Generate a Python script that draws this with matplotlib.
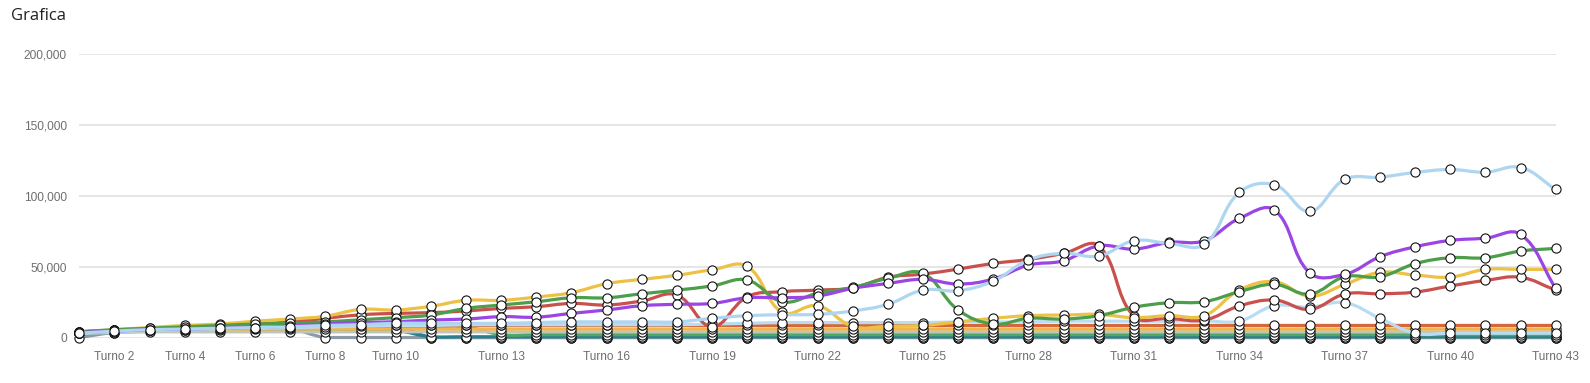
import numpy as np
import matplotlib
matplotlib.use("Agg")
import matplotlib.pyplot as plt
from matplotlib.path import Path
from matplotlib.patches import PathPatch
from matplotlib.ticker import FuncFormatter

turns = [f"Turno {i}" for i in range(1, 44)]
shown_labels = ["Turno 2", "Turno 4", "Turno 6", "Turno 8", "Turno 10", "Turno 13", "Turno 16",
                "Turno 19", "Turno 22", "Turno 25", "Turno 28", "Turno 31", "Turno 34", "Turno 37",
                "Turno 40", "Turno 43"]
y_ticks = [0, 50000, 100000, 150000, 200000]

yellow = [4000, 5500, 7000, 8500, 9500, 11500, 13000, 15000, 19800, 19400,
          22000, 26200, 26200, 28500, 31600, 37900, 41000, 43800, 47700, 50100,
          17700, 22400, 7800, 7800, 8500, 11000, 13500, 15400, 15800, 16300,
          14000, 15400, 15400, 33400, 39300, 29200, 37400, 45900, 44000, 42600,
          48000, 48000, 48000]
green = [4000, 5500, 6500, 7500, 8500, 9500, 10000, 11000, 12500, 14000,
         15800, 20500, 22900, 25200, 28000, 28000, 30800, 33400, 36300, 40500,
         25200, 31100, 35300, 41700, 45200, 19400, 9500, 13500, 13000, 15400,
         21300, 24500, 25200, 32300, 37400, 30600, 42800, 42800, 52000, 56200,
         56200, 60900, 62800]
red = [4000, 5000, 6000, 7000, 8000, 9500, 11000, 13500, 16000, 17000,
       17500, 18700, 20500, 21700, 24000, 22900, 25700, 29900, 7600, 28700,
       32300, 33400, 35000, 42400, 44700, 48200, 52200, 55000, 59300, 64600,
       15000, 13500, 12300, 22200, 26400, 19800, 30600, 30800, 32000, 36300,
       40200, 42400, 33400]
purple = [3500, 4500, 5500, 6000, 6500, 7000, 8000, 9500, 10500, 11100,
          12300, 13000, 14700, 14300, 17000, 19400, 22400, 23400, 24000, 28000,
          28000, 29200, 34600, 38100, 41000, 37700, 41200, 51000, 54100, 64600,
          62300, 67000, 68200, 83900, 89800, 45600, 44500, 56900, 63900, 68400,
          70000, 72700, 34600]
lightblue = [3000, 4500, 5500, 6000, 6500, 7000, 7500, 8500, 9000, 10000,
             10000, 10000, 10000, 10500, 11000, 11000, 11000, 11000, 13500, 15400,
             16000, 16300, 18700, 23400, 33400, 33000, 39800, 54600, 59300, 57400,
             68200, 66300, 65600, 102200, 107600, 88800, 111400, 113000, 116300, 118400,
             116500, 119800, 104300]
lightblue2 = [3000, 4000, 5000, 5500, 6000, 6500, 7000, 7500, 8000, 8500,
              8500, 9000, 9000, 9000, 9000, 9000, 9000, 9000, 9500, 10000,
              10500, 10500, 10500, 10500, 10500, 11000, 11000, 11000, 11500, 11500,
              11500, 11500, 11800, 11600, 22400, 21300, 24500, 13500, 3000, 3000,
              3000, 3000, 3000]
darkorange = [4000, 5000, 5500, 6000, 6500, 7000, 7500, 8000, 8500, 8500,
              8500, 8500, 8500, 8500, 8500, 8500, 8500, 8500, 8500, 8500,
              8500, 8500, 8500, 8500, 8500, 8500, 8500, 8500, 8500, 8500,
              8500, 8500, 8500, 8500, 8500, 8500, 8500, 8500, 8500, 8500,
              8500, 8500, 8500]
lightorange = [3500, 4500, 5000, 5500, 5500, 6000, 6000, 6000, 6000, 6000,
               6000, 6000, 6000, 6000, 6000, 6000, 6000, 6000, 6000, 6000,
               6000, 6000, 6000, 6000, 6000, 6000, 6000, 6000, 6000, 6000,
               6000, 6000, 6000, 6000, 6000, 6000, 6000, 6000, 6000, 6000,
               6000, 6000, 6000]
lightgray = [3000, 3500, 4000, 4000, 4000, 4000, 4000, 4000, 4000, 4000,
             4000, 4000, 4000, 4000, 4000, 4000, 4000, 4000, 4000, 4000,
             4000, 4000, 4000, 4000, 4000, 4000, 4000, 4000, 4000, 4000,
             4000, 4000, 4000, 4000, 4000, 4000, 4000, 4000, 4000, 4000,
             4000, 4000, 4000]
green2 = [3000, 4500, 5000, 5500, 6000, 6000, 6500, 7000, 7000, 7500,
          7500, 7500, 2000, 2000, 2000, 2000, 2000, 2000, 2000, 2000,
          2000, 2000, 2000, 2000, 2000, 2000, 2000, 2000, 2000, 2000,
          2000, 2000, 2000, 2000, 2000, 2000, 2000, 2000, 2000, 2000,
          2000, 2000, 2000]
teal = [3000, 4000, 4500, 5000, 5000, 5500, 5500, 5500, 5000, 5000,
        500, 500, 500, 500, 500, 500, 500, 500, 500, 500,
        500, 500, 500, 500, 500, 500, 500, 500, 500, 500,
        500, 500, 500, 500, 500, 500, 500, 500, 500, 500,
        500, 500, 500]
gray = [0, 3500, 4500, 5000, 5500, 5500, 6000, 0, 0, 0,
        0, 0, 0, 0, 0, 0, 0, 0, 0, 0,
        0, 0, 0, 0, 0, 0, 0, 0, 0, 0,
        0, 0, 0, 0, 0, 0, 0, 0, 0, 0,
        0, 0, 0]
darkblue = [3500, 4500, 5000, 5500, 6000, 6500, 7000, 7500, 8500, 9000,
            0, 0, 0, 0, 0, 0, 0, 0, 0, 0,
            0, 0, 0, 0, 0, 0, 0, 0, 0, 0,
            0, 0, 0, 0, 0, 0, 0, 0, 0, 0,
            0, 0, 0]

series = [
    (lightblue, "#aed6f1"),
    (purple, "#9b45e4"),
    (green, "#4c9e4a"),
    (yellow, "#ecc145"),
    (red, "#c9504c"),
    (lightblue2, "#b9dcf3"),
    (darkorange, "#d7673a"),
    (lightorange, "#f3b54a"),
    (lightgray, "#bcc6bc"),
    (green2, "#52a862"),
    (teal, "#2a7f8f"),
    (gray, "#8c9aa6"),
    (darkblue, "#1f6fab"),
]

W, H = 1590, 383
fig = plt.figure(figsize=(W / 100, H / 100), dpi=100)
left, right = 79.3 / W, 1555.7 / W
bottom, top = 1 - 337.5 / H, 1 - 53.7 / H
ax = fig.add_axes([left, bottom, right - left, top - bottom])
ax.set_xlim(1, 43)
ax.set_ylim(0, 200000)

# pixel scale for Chart.js-like spline computation
sx = (1555.7 - 79.3) / 42.0
sy = (337.5 - 53.7) / 200000.0


def spline_path(xs, ys, tension=0.4):
    xs = np.asarray(xs, float)
    ys = np.asarray(ys, float)
    px, py = xs * sx, ys * sy
    n = len(xs)
    prev_c = np.zeros((n, 2))
    next_c = np.zeros((n, 2))
    for i in range(n):
        i0 = max(i - 1, 0)
        i2 = min(i + 1, n - 1)
        d01 = np.hypot(px[i] - px[i0], py[i] - py[i0])
        d12 = np.hypot(px[i2] - px[i], py[i2] - py[i])
        tot = d01 + d12
        s01 = d01 / tot if tot > 0 else 0
        s12 = d12 / tot if tot > 0 else 0
        fa, fb = tension * s01, tension * s12
        dx, dy = px[i2] - px[i0], py[i2] - py[i0]
        prev_c[i] = (px[i] - fa * dx, py[i] - fa * dy)
        next_c[i] = (px[i] + fb * dx, py[i] + fb * dy)
    # cap to chart area
    for c in (prev_c, next_c):
        c[:, 0] = np.clip(c[:, 0], 1 * sx, 43 * sx)
        c[:, 1] = np.clip(c[:, 1], 0, 200000 * sy)
    verts = [(px[0], py[0])]
    codes = [Path.MOVETO]
    for i in range(n - 1):
        verts += [tuple(next_c[i]), tuple(prev_c[i + 1]), (px[i + 1], py[i + 1])]
        codes += [Path.CURVE4] * 3
    verts = [(vx / sx, vy / sy) for vx, vy in verts]
    return Path(verts, codes)


xs = np.arange(1, 44)
z = 10
for vals, col in reversed(series):
    patch = PathPatch(spline_path(xs, vals), facecolor="none", edgecolor=col,
                      lw=2.3, capstyle="round", joinstyle="round", zorder=z, clip_on=False)
    ax.add_patch(patch)
    ax.plot(xs, vals, linestyle="none", marker="o", ms=6.6, mfc="white", mec="#111111",
            mew=0.8, zorder=z + 0.5, clip_on=False)
    z += 1

for s in ax.spines.values():
    s.set_visible(False)
ax.set_yticks(y_ticks)
ax.yaxis.set_major_formatter(FuncFormatter(lambda v, p: f"{int(v):,}"))
ax.grid(axis="y", color="#e6e6e6", lw=1.4, zorder=0)
ax.set_axisbelow(True)
tick_pos = [turns.index(l) + 1 for l in shown_labels]
ax.set_xticks(tick_pos)
ax.set_xticklabels(shown_labels)
ax.tick_params(axis="both", length=0, labelsize=8.6, labelcolor="#6e6e6e")
ax.tick_params(axis="x", pad=10)
ax.tick_params(axis="y", pad=9)
for lab in ax.get_xticklabels() + ax.get_yticklabels():
    lab.set_fontfamily("Liberation Sans")

fig.text(11 / W, 1 - 16.5 / H, "Grafica", fontsize=12, family="Open Sans",
         color="#222222", va="center", ha="left")

fig.savefig("out.png", dpi=100, facecolor="white")
